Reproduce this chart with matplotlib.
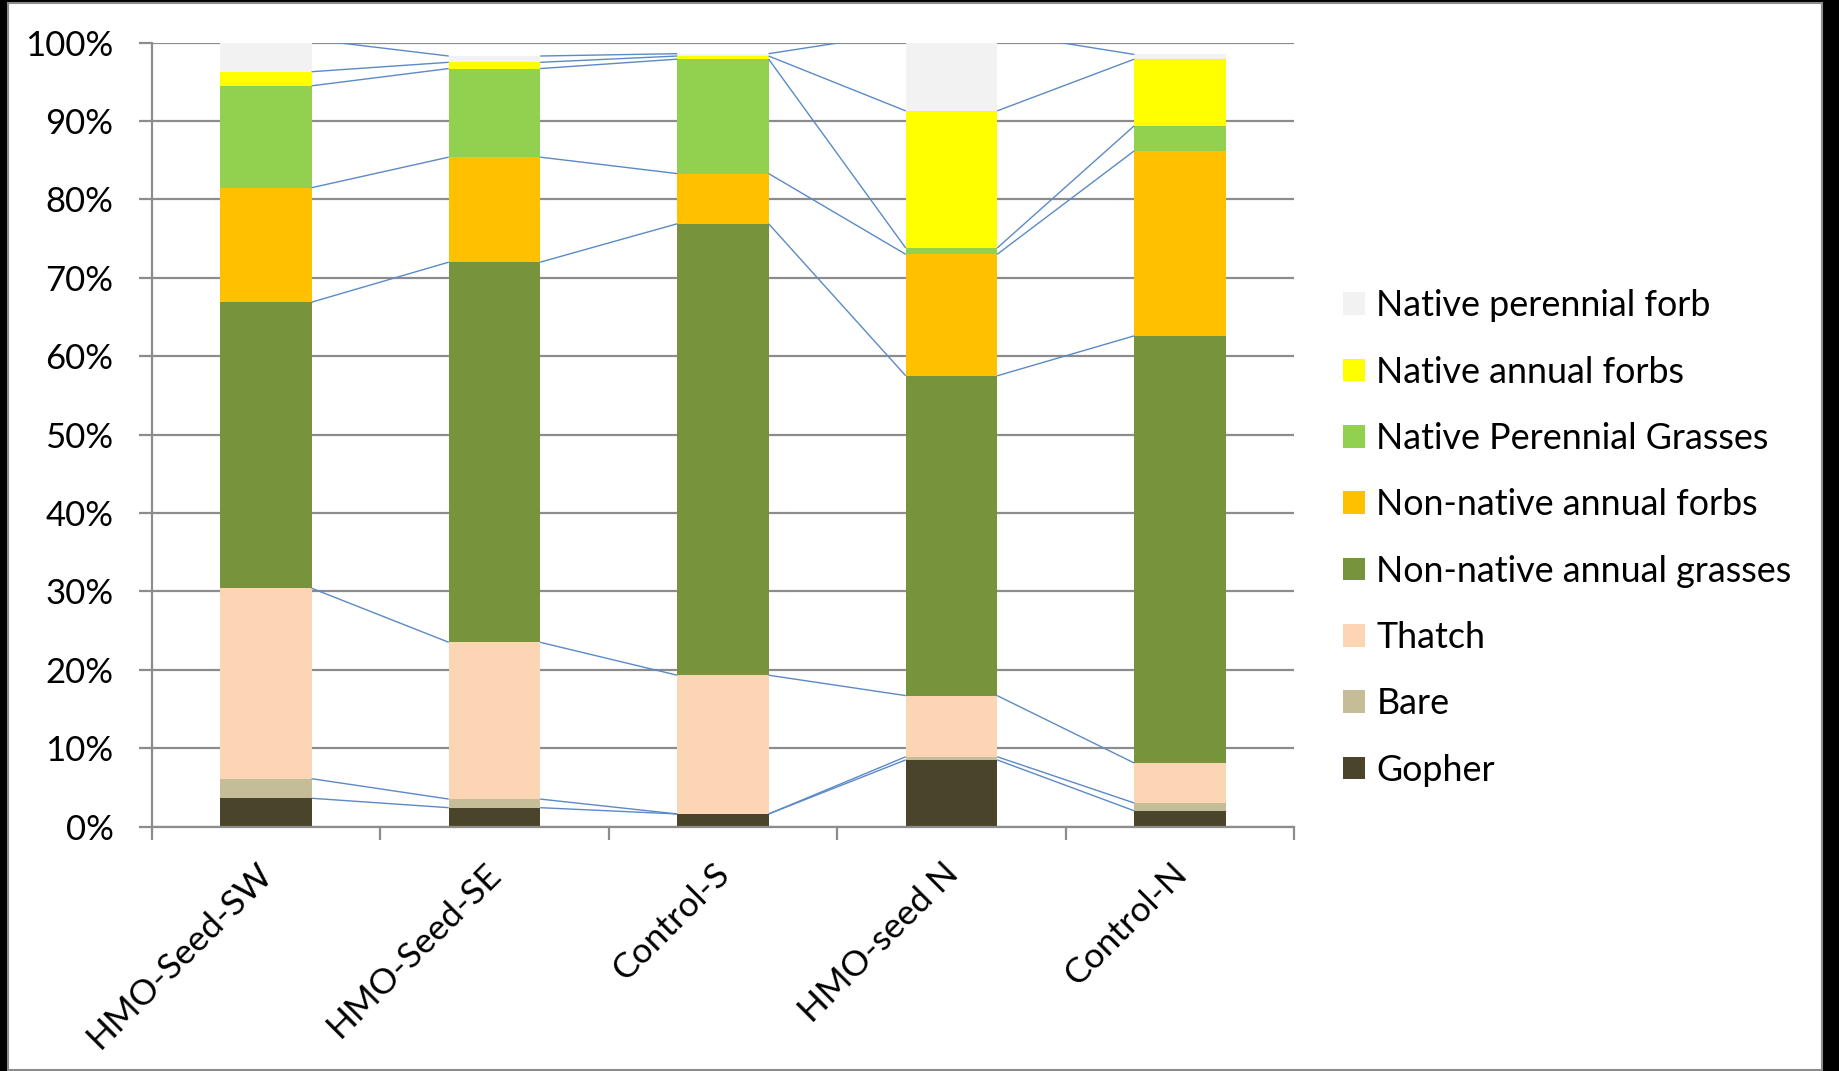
import matplotlib
matplotlib.use('Agg')
import matplotlib.pyplot as plt
import matplotlib.transforms as mtransforms
from matplotlib.patches import Rectangle, Patch
import numpy as np

plt.rcParams['font.family'] = ['Lato', 'DejaVu Sans']

sites = ['HMO-Seed-SW', 'HMO-Seed-SE', 'Control-S', 'HMO-seed N', 'Control-N']

# cover (%) per site, bottom of the stack first
gopher = [3.6, 2.4, 1.6, 8.5, 2.0]
bare = [2.5, 1.1, 0.0, 0.4, 1.0]
thatch = [24.3, 20.0, 17.7, 7.8, 5.1]
nonnative_grasses = [36.5, 48.5, 57.6, 40.8, 54.5]
nonnative_forbs = [14.6, 13.4, 6.4, 15.5, 23.6]
native_per_grasses = [13.0, 11.3, 14.6, 0.8, 3.2]
native_ann_forbs = [1.8, 0.8, 0.4, 17.5, 8.5]
native_per_forb = [4.1, 0.8, 0.3, 10.0, 0.6]

series = [
    ('Gopher', gopher, '#4A452A'),
    ('Bare', bare, '#C4BD97'),
    ('Thatch', thatch, '#FCD5B5'),
    ('Non-native annual grasses', nonnative_grasses, '#77933C'),
    ('Non-native annual forbs', nonnative_forbs, '#FFC000'),
    ('Native Perennial Grasses', native_per_grasses, '#92D050'),
    ('Native annual forbs', native_ann_forbs, '#FFFF00'),
    ('Native perennial forb', native_per_forb, '#F2F2F2'),
]

W, H = 1839, 1071
fig = plt.figure(figsize=(W / 100, H / 100), dpi=100, facecolor='black')
# white chart area with grey frame
fig.patches.append(Rectangle((8 / W, 1 - 1070 / H), (1822 - 8) / W, (1070 - 3) / H,
                             transform=fig.transFigure, facecolor='white',
                             edgecolor='#8C8C8C', linewidth=1.5, zorder=-10))

ax = fig.add_axes([151.7 / W, 1 - 826.5 / H, (1294.2 - 151.7) / W, (826.5 - 42.7) / H])
ax.set_facecolor('none')

x = np.arange(len(sites))
bw = 0.4
bottom = np.zeros(len(sites))
tops = []
for name, vals, col in series:
    vals = np.array(vals)
    ax.bar(x, vals, bw, bottom=bottom, color=col, label=name, zorder=2, linewidth=0)
    bottom = bottom + vals
    tops.append(bottom.copy())

# series lines between adjacent columns
for t in tops:
    for i in range(len(sites) - 1):
        ax.plot([x[i] + bw / 2, x[i + 1] - bw / 2], [t[i], t[i + 1]],
                color='#5B8AC6', lw=1.0, zorder=3, solid_capstyle='butt')

ax.set_xlim(-0.5, len(sites) - 0.5)
ax.set_ylim(0, 100)
ax.set_yticks(np.arange(0, 101, 10))
ax.set_yticklabels(['{}%'.format(v) for v in range(0, 101, 10)], fontsize=25)
ax.yaxis.grid(True, color='#8C8C8C', linewidth=1.6, zorder=1)
ax.set_axisbelow(True)
for s in ['top', 'right']:
    ax.spines[s].set_visible(False)
for s in ['left', 'bottom']:
    ax.spines[s].set_color('#8C8C8C')
    ax.spines[s].set_linewidth(1.6)
ax.tick_params(axis='y', length=9.5, width=1.6, color='#8C8C8C', pad=18)

ax.set_xticks(x)
ax.set_xticklabels(sites, fontsize=25.5, rotation=45, ha='right', va='top')
ax.set_xticks(np.arange(-0.5, len(sites)), minor=True)
ax.tick_params(axis='x', which='major', length=0, pad=22)
ax.tick_params(axis='x', which='minor', length=9.5, width=1.6, color='#8C8C8C')
off = mtransforms.ScaledTranslation(13 / 100, 0, fig.dpi_scale_trans)
for lab in ax.get_xticklabels():
    lab.set_transform(lab.get_transform() + off)

handles = [Patch(facecolor=c, edgecolor='none') for _, _, c in series][::-1]
labels = [n for n, _, _ in series][::-1]
fig.legend(handles, labels, loc='center left', bbox_to_anchor=(1343 / W, 1 - 538 / H),
           frameon=False, fontsize=25.8, handlelength=0.6, handleheight=0.6,
           handletextpad=0.33, labelspacing=0.93, borderaxespad=0, borderpad=0)

fig.savefig('out.png', dpi=100, facecolor='black')
